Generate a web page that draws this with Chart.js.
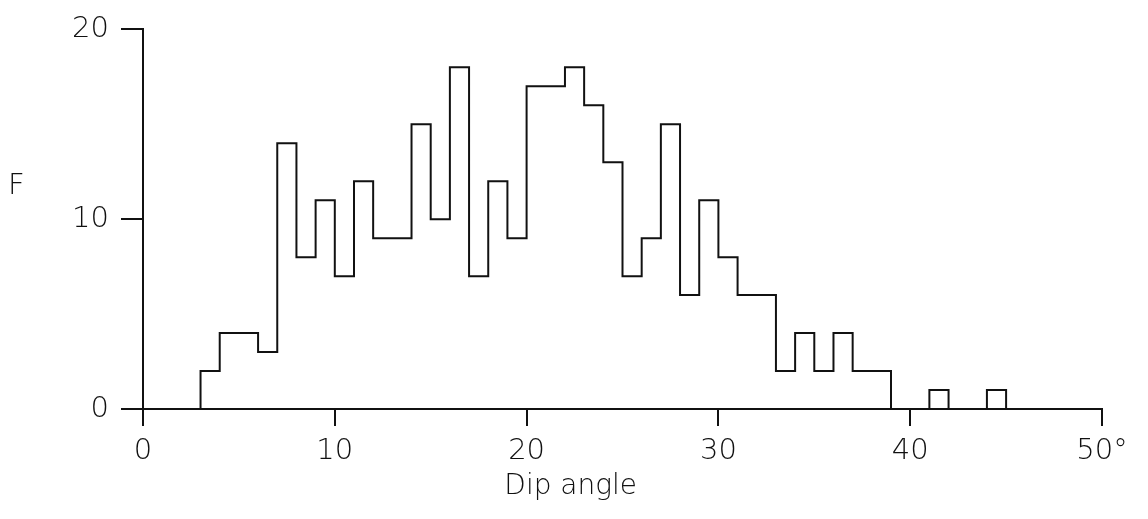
<!DOCTYPE html>
<html>
<head>
<meta charset="utf-8">
<script src="https://cdn.jsdelivr.net/npm/chart.js@4"></script>
<style>
  html, body { margin: 0; padding: 0; background: #fff; }
  #wrap { width: 1148px; height: 519px; }
</style>
</head>
<body>
<div id="wrap"><canvas id="grafico" width="1148" height="519"></canvas></div>
<script>
// Clases de 1 grado: borde izquierdo de cada clase y su frecuencia
const binStarts = [3, 4, 5, 6, 7, 8, 9, 10, 11, 12, 13, 14, 15, 16, 17, 18, 19, 20, 21, 22,
  23, 24, 25, 26, 27, 28, 29, 30, 31, 32, 33, 34, 35, 36, 37, 38, 39, 40, 41, 42, 43, 44];
const frequencies = [2, 4, 4, 3, 14, 8, 11, 7, 12, 9, 9, 15, 10, 18, 7, 12, 9, 17, 17, 18,
  16, 13, 7, 9, 15, 6, 11, 8, 6, 6, 2, 4, 2, 4, 2, 2, 0, 0, 1, 0, 0, 1];
const lastEdge = 45;

const xRange = [0, 50];
const yRange = [0, 20];
const xStep = 10;
const yStep = 10;

const xTitle = 'Dip angle';
const yTitle = 'F';

const FONT = '"DejaVu Sans", sans-serif';
const WEIGHT = 200;
const INK = '#111';

// puntos del escalón (empieza y termina sobre el eje)
function stepPoints() {
  const pts = [{ x: binStarts[0], y: 0 }];
  binStarts.forEach((x, i) => pts.push({ x: x, y: frequencies[i] }));
  pts.push({ x: lastEdge, y: 0 });
  return pts;
}

// títulos de ejes dibujados a mano (la F va sin rotar)
const axisTitles = {
  id: 'axisTitles',
  afterDraw(chart) {
    const ctx = chart.ctx;
    const xs = chart.scales.x;
    const ys = chart.scales.y;
    ctx.save();
    ctx.fillStyle = INK;
    ctx.font = WEIGHT + ' 29px ' + FONT;
    ctx.textAlign = 'left';
    ctx.textBaseline = 'middle';
    ctx.fillText(yTitle, 8, ys.getPixelForValue(11.7));
    ctx.font = WEIGHT + ' 28px ' + FONT;
    ctx.textAlign = 'center';
    ctx.fillText(xTitle, xs.getPixelForValue(22.3), 487);
    ctx.restore();
  }
};

window.onload = function () {
  const ctx = document.getElementById('grafico').getContext('2d');

  new Chart(ctx, {
    type: 'line',
    data: {
      datasets: [{
        data: stepPoints(),
        stepped: true,
        borderColor: INK,
        borderWidth: 2,
        pointRadius: 0,
        fill: false,
        tension: 0
      }]
    },
    options: {
      responsive: false,
      animation: false,
      devicePixelRatio: 1,
      layout: { padding: { top: 22, right: 46, left: 0, bottom: 0 } },
      plugins: {
        legend: { display: false },
        tooltip: { enabled: false }
      },
      scales: {
        x: {
          type: 'linear',
          min: xRange[0],
          max: xRange[1],
          afterFit: s => { s.height = 110; },
          border: { display: true, color: INK, width: 2 },
          grid: { drawOnChartArea: false, drawTicks: true, tickLength: 17, color: INK, lineWidth: 2 },
          ticks: {
            stepSize: xStep,
            color: INK,
            padding: 8,
            maxRotation: 0,
            font: { family: FONT, size: 29, weight: WEIGHT },
            callback: v => (v === xRange[1] ? v + '°' : v)
          }
        },
        y: {
          min: yRange[0],
          max: yRange[1],
          afterFit: s => { s.width = 143; },
          border: { display: true, color: INK, width: 2 },
          grid: { drawOnChartArea: false, drawTicks: true, tickLength: 22, color: INK, lineWidth: 2 },
          ticks: {
            stepSize: yStep,
            color: INK,
            padding: 12,
            font: { family: FONT, size: 29, weight: WEIGHT }
          }
        }
      }
    },
    plugins: [axisTitles]
  });
};
</script>
</body>
</html>
